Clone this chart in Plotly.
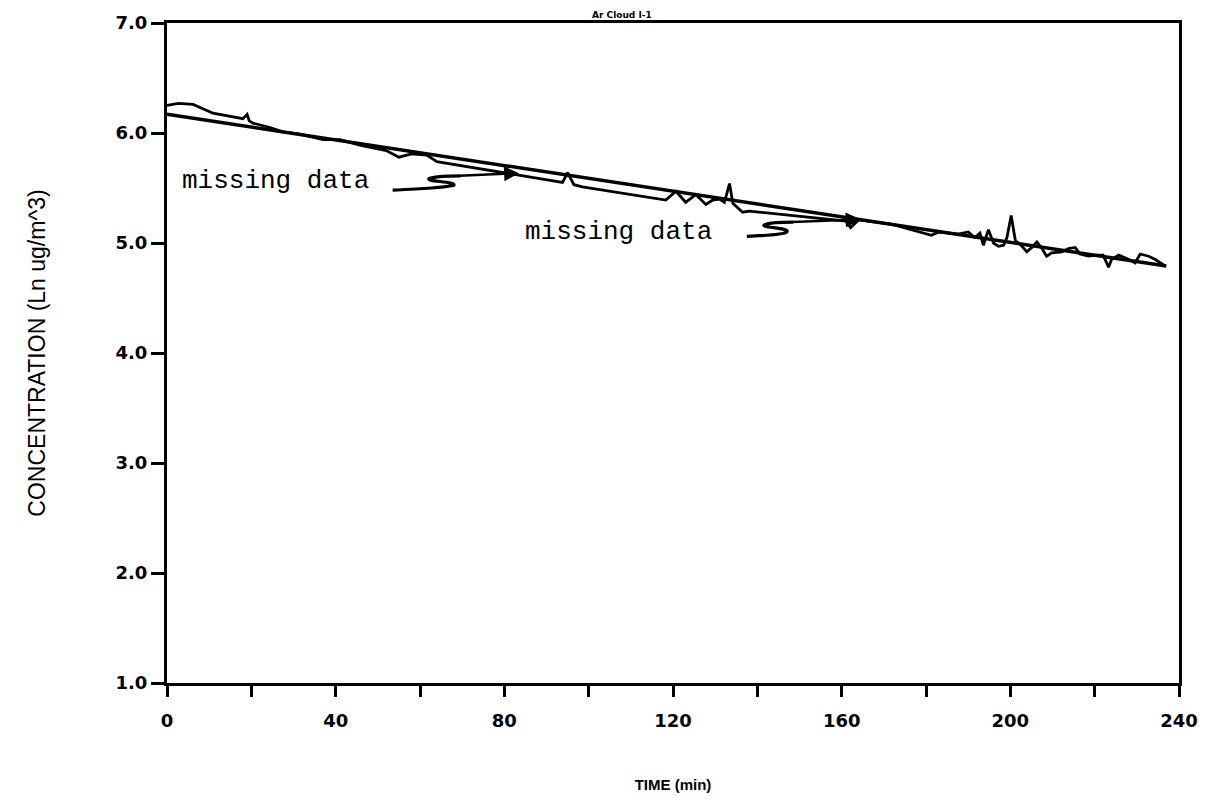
import plotly.graph_objects as go

# ---- data ----
time_min = [0, 2.7, 6.2, 10.9, 18, 19, 19.5, 20.4, 24.4, 27.5, 31.5, 37, 41, 45.7, 52, 55, 58, 61.6, 64,
            93.8, 95, 96.5, 98.5,
            118.3, 120.7, 121.9, 123, 125.4, 127.8, 129.4, 131, 132.2, 133.4, 134.2, 136.5, 138,
            161, 162.1, 164, 172, 181.3, 183, 187.6, 190, 191.6, 192.8, 193.6, 194.8, 196, 197.2,
            198.4, 199.2, 200.2, 201.2, 202.3, 203.9, 205.1, 206.3, 207.5, 208.6, 209.8, 212.2,
            213.8, 215.4, 216.5, 218.5, 220.5, 222, 223.3, 224, 225.7, 227.6, 229.6, 230.8, 232.8,
            234.4, 236.8]
ln_conc = [6.25, 6.27, 6.26, 6.18, 6.13, 6.17, 6.11, 6.09, 6.05, 6.01, 5.99, 5.94, 5.94, 5.89, 5.84, 5.78, 5.81, 5.80, 5.74,
           5.55, 5.64, 5.53, 5.51,
           5.39, 5.47, 5.42, 5.37, 5.44, 5.35, 5.39, 5.40, 5.37, 5.54, 5.36, 5.28, 5.29,
           5.20, 5.14, 5.21, 5.17, 5.07, 5.10, 5.08, 5.10, 5.05, 5.09, 4.98, 5.12, 5.00, 4.97,
           4.98, 5.05, 5.25, 5.02, 4.99, 4.92, 4.96, 5.01, 4.95, 4.88, 4.91, 4.92,
           4.95, 4.96, 4.90, 4.88, 4.89, 4.89, 4.78, 4.85, 4.89, 4.86, 4.82, 4.90, 4.88,
           4.85, 4.79]
fit_time = [0, 237]
fit_conc = [6.17, 4.79]

x_tickvals = [0, 40, 80, 120, 160, 200, 240]
x_ticktext = ["0", "40", "80", "120", "160", "200", "240"]
x_minor_ticks = [20, 60, 100, 140, 180, 220]
y_tickvals = [1, 2, 3, 4, 5, 6, 7]
y_ticktext = ["1.0", "2.0", "3.0", "4.0", "5.0", "6.0", "7.0"]

notes = ["missing data", "missing data"]
note_pos = [(3, 5.56), (84.5, 5.10)]
arrow_tail = [(69, 5.61), (148, 5.19)]
arrow_tip = [(83.5, 5.635), (164.5, 5.215)]

fig = go.Figure()
fig.add_trace(go.Scatter(x=fit_time, y=fit_conc, mode="lines",
                         line=dict(color="black", width=3.5), showlegend=False))
fig.add_trace(go.Scatter(x=time_min, y=ln_conc, mode="lines",
                         line=dict(color="black", width=2.8), showlegend=False))

tick_font = dict(family="DejaVu Sans", size=18, color="black", weight="bold")

fig.update_xaxes(range=[0, 240], tickvals=x_tickvals, ticktext=x_ticktext,
                 ticks="outside", ticklen=11, tickwidth=2.5, tickcolor="black",
                 ticklabelstandoff=8,
                 minor=dict(tickvals=x_minor_ticks, ticks="outside",
                            ticklen=11, tickwidth=2.5, tickcolor="black"),
                 showline=True, linecolor="black", linewidth=3, mirror=True,
                 showgrid=False, zeroline=False, tickfont=tick_font,
                 title=dict(text="TIME (min)", font=dict(family="Liberation Sans", size=15,
                                                        color="black", weight="bold"), standoff=50))
fig.update_yaxes(range=[1, 7], tickvals=y_tickvals, ticktext=y_ticktext,
                 ticks="outside", ticklen=13, tickwidth=2.5, tickcolor="black",
                 showline=True, linecolor="black", linewidth=3, mirror=True,
                 showgrid=False, zeroline=False, tickfont=tick_font,
                 title=dict(text="CONCENTRATION (Ln ug/m^3)",
                            font=dict(family="Liberation Sans", size=23, color="black"),
                            standoff=64))

for txt, (nx, ny) in zip(notes, note_pos):
    fig.add_annotation(x=nx, y=ny, text=txt, showarrow=False, xanchor="left", yanchor="middle",
                       font=dict(family="Liberation Mono", size=26, color="black"))
for (tx, ty), (hx, hy) in zip(arrow_tail, arrow_tip):
    fig.add_annotation(x=hx, y=hy, ax=tx, ay=ty, axref="x", ayref="y", text="",
                       showarrow=True, arrowhead=2, arrowsize=1.2, arrowwidth=2.5,
                       arrowcolor="black")

# hand-drawn "S" squiggles leading into the arrows
fig.add_shape(type="path", xref="x", yref="y",
              path="M 53.5,5.48 C 58,5.49 66,5.50 68,5.525 C 69,5.56 60,5.56 62.5,5.59 C 64,5.605 66,5.61 69.5,5.61",
              line=dict(color="black", width=3.2))
fig.add_shape(type="path", xref="x", yref="y",
              path="M 137.5,5.06 C 141,5.07 146,5.07 147,5.10 C 148,5.14 139.5,5.14 142,5.17 C 143.5,5.19 146,5.19 148.5,5.19",
              line=dict(color="black", width=3.2))

fig.add_annotation(xref="paper", yref="paper", x=0.45, y=1, yshift=1, yanchor="bottom",
                   text="Ar Cloud I-1", showarrow=False,
                   font=dict(family="DejaVu Sans", size=9, color="black", weight="bold"))

fig.update_layout(width=1210, height=809, plot_bgcolor="white", paper_bgcolor="white",
                  margin=dict(l=167, r=30, t=13, b=126))
fig.write_html("out.html")
